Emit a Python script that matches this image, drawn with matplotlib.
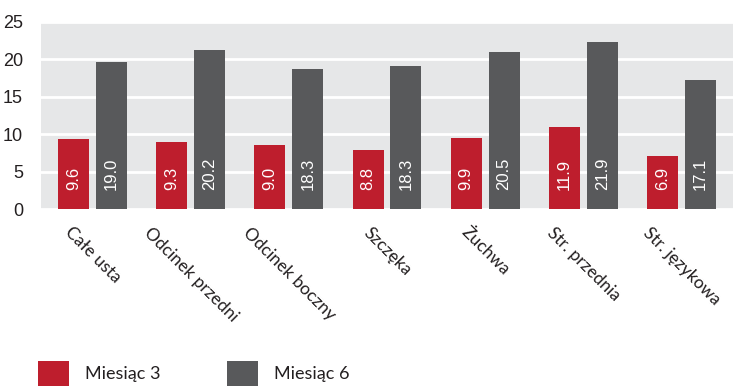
import matplotlib
matplotlib.use("Agg")
import matplotlib.pyplot as plt
import numpy as np

categories = ["Całe usta", "Odcinek przedni", "Odcinek boczny", "Szczęka",
              "Żuchwa", "Str. przednia", "Str. językowa"]
series_names = ["Miesiąc 3", "Miesiąc 6"]
# bar heights as drawn in the picture
month3_heights = [9.33, 8.93, 8.53, 7.87, 9.47, 10.93, 7.07]
month6_heights = [19.6, 21.2, 18.67, 19.07, 20.93, 22.27, 17.2]
# value labels printed inside the bars
month3_labels = ["9.6", "9.3", "9.0", "8.8", "9.9", "11.9", "6.9"]
month6_labels = ["19.0", "20.2", "18.3", "18.3", "20.5", "21.9", "17.1"]
yticks = [0, 5, 10, 15, 20, 25]

RED = "#be1e2d"
GRAY = "#58595b"
BG = "#e6e7e8"
TXT = "#231f20"

W, H = 736, 388
fig = plt.figure(figsize=(W / 100, H / 100), dpi=100)
ax = fig.add_axes([41 / W, 1 - 209 / H, (733 - 41) / W, (209 - 22) / H])
ax.set_facecolor(BG)
for s in ax.spines.values():
    s.set_visible(False)

x = np.arange(len(categories))
bw = 0.316
off = 0.193
b1 = ax.bar(x - off, month3_heights, bw, color=RED, zorder=3, label=series_names[0])
b2 = ax.bar(x + off, month6_heights, bw, color=GRAY, zorder=3, label=series_names[1])

for xi, lab in zip(x - off, month3_labels):
    ax.text(xi, 2.5, lab, rotation=90, ha="center", va="bottom", color="white",
            fontsize=12, family="Liberation Sans", zorder=4)
for xi, lab in zip(x + off, month6_labels):
    ax.text(xi, 2.5, lab, rotation=90, ha="center", va="bottom", color="white",
            fontsize=12, family="Liberation Sans", zorder=4)

ax.set_ylim(0, 25)
ax.set_xlim(-0.525, len(categories) - 0.475)
ax.set_yticks(yticks)
ax.set_yticklabels([str(t) for t in yticks], family="Liberation Sans", fontsize=13, color=TXT)
ax.tick_params(axis="y", length=0, pad=13)
ax.set_xticks(x)
ax.set_xticklabels(categories, rotation=-45, ha="center", va="top",
                   family="Lato", fontsize=12.5, color=TXT)
ax.tick_params(axis="x", length=0, pad=11)
ax.grid(axis="y", color="white", linewidth=2, zorder=1)
ax.set_axisbelow(True)

fig.legend(handles=[b1, b2], labels=series_names, loc="upper left",
           bbox_to_anchor=(38 / W, 1 - 361 / H), ncol=2, frameon=False,
           prop={"family": "Lato", "size": 13}, handlelength=1.72,
           handleheight=1.77, handletextpad=0.89, columnspacing=3.65,
           borderpad=0, borderaxespad=0, labelcolor=TXT)

fig.savefig("out.png", dpi=100)
